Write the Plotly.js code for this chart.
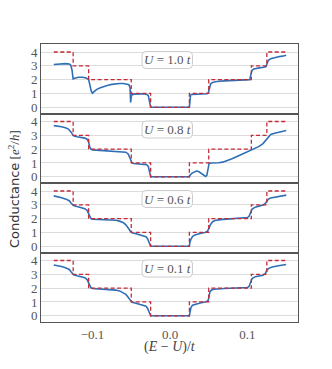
<!DOCTYPE html>
<html>
<head>
<meta charset="utf-8">
<script src="https://cdn.plot.ly/plotly-3.0.1.min.js"></script>
<style>
  html, body { margin: 0; padding: 0; background: #fff; }
  #chart { width: 332px; height: 369px; }
</style>
</head>
<body>
<div id="chart"></div>
<script>
// ideal (clean) conductance staircase, shared by every panel
const stepE = [-0.15, -0.125, -0.105, -0.05, -0.025, 0.025, 0.05, 0.105, 0.125, 0.15];
const stepG = [4, 3, 2, 1, 0, 1, 2, 3, 4, 4];

// U = 1.0 t
const e10 = [-0.150, -0.145, -0.140, -0.135, -0.130, -0.128, -0.1265, -0.1258, -0.125, -0.122, -0.118, -0.113, -0.108, -0.105, -0.1035, -0.1015, -0.1002, -0.098, -0.095, -0.090, -0.085, -0.080, -0.075, -0.070, -0.065, -0.060, -0.056, -0.053, -0.0515, -0.0508, -0.050, -0.0495, -0.047, -0.043, -0.038, -0.033, -0.030, -0.028, -0.0265, -0.0255, -0.025,
  0.025, 0.0255, 0.0265, 0.028, 0.033, 0.040, 0.045, 0.048, 0.0495, 0.051, 0.0525, 0.055, 0.060, 0.070, 0.080, 0.090, 0.100, 0.103, 0.1045, 0.106, 0.108, 0.112, 0.117, 0.121, 0.124, 0.1255, 0.127, 0.130, 0.135, 0.140, 0.145, 0.150];
const g10 = [3.10, 3.13, 3.15, 3.16, 3.13, 3.05, 2.70, 2.20, 2.05, 2.12, 2.17, 2.17, 2.12, 2.00, 1.60, 1.15, 1.02, 1.12, 1.28, 1.42, 1.52, 1.60, 1.66, 1.70, 1.72, 1.72, 1.69, 1.63, 1.40, 0.35, 0.75, 0.88, 0.95, 0.97, 0.97, 0.96, 0.93, 0.85, 0.50, 0.15, 0.00,
  0.00, 0.50, 0.88, 0.93, 0.95, 0.96, 0.97, 0.98, 1.05, 1.50, 1.70, 1.80, 1.87, 1.91, 1.93, 1.95, 1.97, 2.00, 2.40, 2.68, 2.77, 2.83, 2.87, 2.90, 2.95, 3.20, 3.40, 3.52, 3.60, 3.66, 3.70, 3.76];

// U = 0.8 t
const e08 = [-0.150, -0.145, -0.140, -0.135, -0.131, -0.128, -0.126, -0.1245, -0.120, -0.115, -0.110, -0.107, -0.105, -0.1035, -0.102, -0.100, -0.090, -0.080, -0.070, -0.062, -0.057, -0.054, -0.052, -0.0505, -0.049, -0.047, -0.040, -0.033, -0.030, -0.028, -0.0265, -0.0255, -0.025,
  0.025, 0.0258, 0.028, 0.031, 0.034, 0.037, 0.040, 0.043, 0.046, 0.0475, 0.049, 0.0505, 0.053, 0.058, 0.063, 0.068, 0.073, 0.080, 0.090, 0.100, 0.107, 0.115, 0.120, 0.123, 0.125, 0.128, 0.130, 0.135, 0.140, 0.145, 0.150];
const g08 = [3.70, 3.67, 3.62, 3.55, 3.45, 3.25, 3.05, 2.96, 2.90, 2.86, 2.80, 2.72, 2.50, 2.15, 2.00, 1.95, 1.92, 1.90, 1.87, 1.83, 1.78, 1.65, 1.35, 1.10, 1.00, 0.96, 0.93, 0.90, 0.87, 0.75, 0.45, 0.15, 0.00,
  0.00, 0.12, 0.25, 0.36, 0.41, 0.38, 0.28, 0.13, 0.02, 0.10, 0.70, 0.97, 1.00, 1.00, 1.02, 1.06, 1.15, 1.30, 1.56, 1.80, 1.97, 2.20, 2.40, 2.60, 2.80, 3.00, 3.06, 3.15, 3.22, 3.28, 3.35];

// U = 0.6 t
const e06 = [-0.150, -0.145, -0.140, -0.135, -0.130, -0.128, -0.126, -0.1245, -0.120, -0.115, -0.110, -0.107, -0.105, -0.1035, -0.102, -0.100, -0.090, -0.080, -0.070, -0.065, -0.060, -0.057, -0.055, -0.053, -0.051, -0.049, -0.045, -0.040, -0.035, -0.031, -0.029, -0.027, -0.0255, -0.025,
  0.025, 0.0255, 0.027, 0.029, 0.032, 0.036, 0.040, 0.045, 0.048, 0.050, 0.052, 0.055, 0.058, 0.065, 0.075, 0.085, 0.095, 0.100, 0.102, 0.104, 0.106, 0.110, 0.115, 0.120, 0.123, 0.125, 0.127, 0.130, 0.135, 0.140, 0.145, 0.150];
const g06 = [3.65, 3.60, 3.52, 3.43, 3.30, 3.15, 3.00, 2.95, 2.88, 2.80, 2.72, 2.60, 2.35, 2.10, 2.00, 1.96, 1.94, 1.92, 1.88, 1.82, 1.70, 1.55, 1.42, 1.25, 1.07, 0.97, 0.92, 0.85, 0.78, 0.70, 0.55, 0.30, 0.08, 0.00,
  0.00, 0.25, 0.50, 0.70, 0.82, 0.90, 0.95, 1.00, 1.07, 1.25, 1.55, 1.78, 1.86, 1.93, 1.97, 1.99, 2.02, 2.08, 2.17, 2.50, 2.70, 2.83, 2.90, 2.98, 3.10, 3.30, 3.42, 3.50, 3.56, 3.62, 3.66, 3.70];

// U = 0.1 t
const e01 = [-0.150, -0.145, -0.140, -0.135, -0.130, -0.128, -0.126, -0.1245, -0.120, -0.115, -0.110, -0.107, -0.105, -0.1035, -0.102, -0.100, -0.090, -0.080, -0.070, -0.065, -0.060, -0.057, -0.055, -0.053, -0.051, -0.049, -0.045, -0.040, -0.035, -0.031, -0.029, -0.027, -0.0255, -0.025,
  0.025, 0.0255, 0.027, 0.029, 0.033, 0.039, 0.045, 0.048, 0.0495, 0.0505, 0.0516, 0.054, 0.057, 0.070, 0.085, 0.100, 0.102, 0.104, 0.106, 0.110, 0.115, 0.120, 0.123, 0.125, 0.128, 0.132, 0.140, 0.150];
const g01 = [3.68, 3.63, 3.56, 3.47, 3.35, 3.20, 3.03, 2.97, 2.90, 2.84, 2.76, 2.62, 2.35, 2.12, 2.02, 1.97, 1.94, 1.91, 1.86, 1.80, 1.68, 1.55, 1.42, 1.25, 1.07, 0.97, 0.92, 0.86, 0.78, 0.70, 0.55, 0.30, 0.08, 0.00,
  0.00, 0.25, 0.60, 0.76, 0.85, 0.93, 1.00, 1.05, 1.15, 1.40, 1.75, 1.88, 1.92, 1.97, 2.00, 2.05, 2.12, 2.45, 2.70, 2.83, 2.88, 2.93, 3.05, 3.30, 3.45, 3.53, 3.62, 3.71];

// bottom to top
const uLabels = ["0.1", "0.6", "0.8", "1.0"];
const energies = [e01, e06, e08, e10];
const conductances = [g01, g06, g08, g10];

const xTickVals = [-0.1, 0.0, 0.1];
const xTickText = ["\u22120.1", "0.0", "0.1"];
const yTickVals = [0, 1, 2, 3, 4];

const blue = "#2f6fb7";
const red = "#c42a38";
const serif = "'Liberation Serif', 'DejaVu Serif', serif";

// plot box in pixels: left 41, right 298, top 44, bottom 322
const W = 332, H = 369, L = 41, R = 298, T = 44, B = 322;
const px = (x) => (x - L) / (R - L);
const py = (y) => (B - y) / (B - T);

function roundBox(x0, y0, x1, y1, r) {
  return "M" + px(x0 + r) + "," + py(y0) +
    " L" + px(x1 - r) + "," + py(y0) +
    " Q" + px(x1) + "," + py(y0) + " " + px(x1) + "," + py(y0 + r) +
    " L" + px(x1) + "," + py(y1 - r) +
    " Q" + px(x1) + "," + py(y1) + " " + px(x1 - r) + "," + py(y1) +
    " L" + px(x0 + r) + "," + py(y1) +
    " Q" + px(x0) + "," + py(y1) + " " + px(x0) + "," + py(y1 - r) +
    " L" + px(x0) + "," + py(y0 + r) +
    " Q" + px(x0) + "," + py(y0) + " " + px(x0 + r) + "," + py(y0) + " Z";
}

const data = [];
const layout = {
  width: W, height: H,
  margin: {l: L, r: W - R, t: T, b: H - B},
  paper_bgcolor: "#fff",
  plot_bgcolor: "#fff",
  showlegend: false,
  font: {family: serif, size: 12, color: "#555"},
  annotations: [],
  shapes: []
};

for (let i = 0; i < 4; i++) {
  const sfx = i === 0 ? "" : String(i + 1);
  data.push({
    x: energies[i], y: conductances[i],
    xaxis: "x" + sfx, yaxis: "y" + sfx,
    type: "scatter", mode: "lines",
    line: {color: blue, width: 1.6},
    hoverinfo: "x+y"
  });
  data.push({
    x: stepE, y: stepG,
    xaxis: "x" + sfx, yaxis: "y" + sfx,
    type: "scatter", mode: "lines",
    line: {color: red, width: 1.3, dash: "4px,2.5px", shape: "hv"},
    hoverinfo: "x+y"
  });

  layout["xaxis" + sfx] = {
    range: [-0.1665, 0.1652],
    anchor: "y" + sfx,
    matches: i === 0 ? undefined : "x",
    showgrid: false, zeroline: false,
    showline: true, mirror: true, linecolor: "#555", linewidth: 1,
    tickvals: xTickVals, ticktext: xTickText,
    showticklabels: i === 0,
    ticks: "", tickfont: {family: serif, size: 13, color: "#555"}
  };
  layout["yaxis" + sfx] = {
    domain: [i * 0.25, (i + 1) * 0.25],
    anchor: "x" + sfx,
    range: [-0.45, 4.58],
    tickvals: yTickVals,
    showgrid: true, gridcolor: "#dcdcdc", gridwidth: 1,
    zeroline: false,
    showline: true, mirror: true, linecolor: "#555", linewidth: 1,
    ticks: "", tickfont: {family: serif, size: 13, color: "#555"}
  };

  // label box, 16 px below the top of its panel
  const top = B - (i + 1) * (B - T) / 4;
  const cy = top + 16;
  layout.shapes.push({
    type: "path", xref: "paper", yref: "paper",
    path: roundBox(142, cy - 8.5, 192.5, cy + 8.5, 4),
    fillcolor: "rgba(255,255,255,0.85)",
    line: {color: "#cccccc", width: 1}
  });
  layout.annotations.push({
    xref: "paper", yref: "paper",
    x: px(167), y: py(cy),
    xanchor: "center", yanchor: "middle",
    text: "<i>U</i> = " + uLabels[i] + " <i>t</i>",
    showarrow: false,
    font: {family: serif, size: 13, color: "#555"}
  });
}

layout.annotations.push({
  xref: "paper", yref: "paper",
  x: px(170), y: py(347),
  xanchor: "center", yanchor: "middle",
  text: "(<i>E</i> \u2212 <i>U</i>)/<i>t</i>",
  showarrow: false,
  font: {family: serif, size: 14, color: "#444"}
});
layout.annotations.push({
  xref: "paper", yref: "paper",
  x: px(14), y: py(189),
  xanchor: "center", yanchor: "middle",
  textangle: -90,
  text: "<span style=\"font-family:'DejaVu Sans'\">Conductance</span> [<i>e</i><sup>2</sup>/<i>h</i>]",
  showarrow: false,
  font: {family: serif, size: 13, color: "#333"}
});

Plotly.newPlot("chart", data, layout, {displayModeBar: false, staticPlot: true});
</script>
</body>
</html>
